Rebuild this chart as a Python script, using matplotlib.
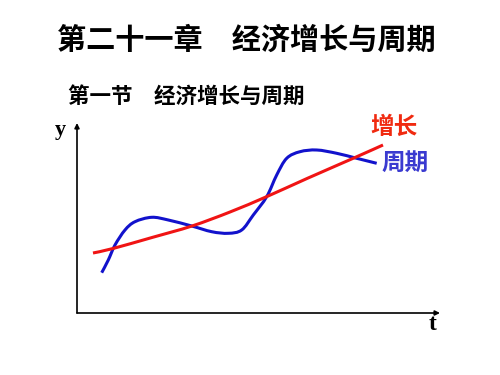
import matplotlib
matplotlib.use("Agg")
import matplotlib.pyplot as plt
from matplotlib.path import Path
from matplotlib.patches import PathPatch

plt.rcParams['font.family'] = ['Noto Sans CJK SC', 'DejaVu Sans']

# Data (in axis units, origin at the axes corner)
growth_t = [16, 36, 75, 115, 153, 190, 230, 278, 306]
growth_y = [60, 64.5, 75.5, 87, 101, 116.5, 134.5, 155.5, 168]

cycle_t = [24.7, 31.3, 38, 48, 58, 74.7, 91.3, 114.7, 134.7, 151.3, 164.7,
           176.3, 189.7, 199.7, 209.7, 223, 239.7, 259.7, 279.7, 299.7]
cycle_y = [40.3, 53, 68, 83, 91.3, 95.7, 93, 87, 81.3, 79.7, 83,
           98, 116.3, 138, 154.7, 161.3, 163, 159.7, 154.7, 149.7]

title = "第二十一章\u3000经济增长与周期"
subtitle = "第一节\u3000经济增长与周期"
growth_label = "增长"
cycle_label = "周期"


def smooth_path(xs, ys):
    """Catmull-Rom curve through the points, drawn as cubic Bezier segments."""
    pts = list(zip(xs, ys))
    n = len(pts)
    verts = [pts[0]]
    codes = [Path.MOVETO]
    for i in range(n - 1):
        p0 = pts[i - 1] if i > 0 else pts[i]
        p1 = pts[i]
        p2 = pts[i + 1]
        p3 = pts[i + 2] if i + 2 < n else pts[i + 1]
        c1 = (p1[0] + (p2[0] - p0[0]) / 6, p1[1] + (p2[1] - p0[1]) / 6)
        c2 = (p2[0] - (p3[0] - p1[0]) / 6, p2[1] - (p3[1] - p1[1]) / 6)
        verts += [c1, c2, p2]
        codes += [Path.CURVE4] * 3
    return Path(verts, codes)


W, H = 500, 375
fig = plt.figure(figsize=(5, 3.75), dpi=100)
fig.patch.set_facecolor('white')

ax = fig.add_axes([77 / W, (H - 313) / H, 361 / W, 188 / H])
ax.set_xlim(0, 361)
ax.set_ylim(0, 188)
ax.axis('off')

ax.add_patch(PathPatch(smooth_path(growth_t, growth_y), facecolor='none',
                       edgecolor='#f01414', lw=2.2, capstyle='butt', zorder=3))
ax.add_patch(PathPatch(smooth_path(cycle_t, cycle_y), facecolor='none',
                       edgecolor='#1212cc', lw=2.2, capstyle='butt', zorder=2))

# axes arrows
ax.annotate('', xy=(0, 190), xytext=(0, 0),
            arrowprops=dict(arrowstyle='-|>', color='black', lw=1.2,
                            mutation_scale=7, shrinkA=0, shrinkB=0),
            annotation_clip=False)
ax.annotate('', xy=(363, 0), xytext=(0, 0),
            arrowprops=dict(arrowstyle='-|>', color='black', lw=1.2,
                            mutation_scale=7, shrinkA=0, shrinkB=0),
            annotation_clip=False)

def ftext(x, y, s, **kw):
    fig.text(x / W, 1 - y / H, s, **kw)

ftext(57, 40, title, fontsize=21, fontweight='bold', ha='left', va='center', color='black')
ftext(68, 96, subtitle, fontsize=15.5, fontweight='bold', ha='left', va='center', color='black')
ftext(370, 127, growth_label, fontsize=17, fontweight='bold', ha='left', va='center', color='#f02a10')
ftext(381, 163, cycle_label, fontsize=17, fontweight='bold', ha='left', va='center', color='#3a3ad0')
ftext(60, 130, 'y', fontsize=16, fontweight='bold', family='Liberation Serif', ha='center', va='center')
ftext(433, 324, 't', fontsize=17, fontweight='bold', family='Liberation Serif', ha='center', va='center')

fig.savefig('out.png', dpi=100, facecolor='white')
